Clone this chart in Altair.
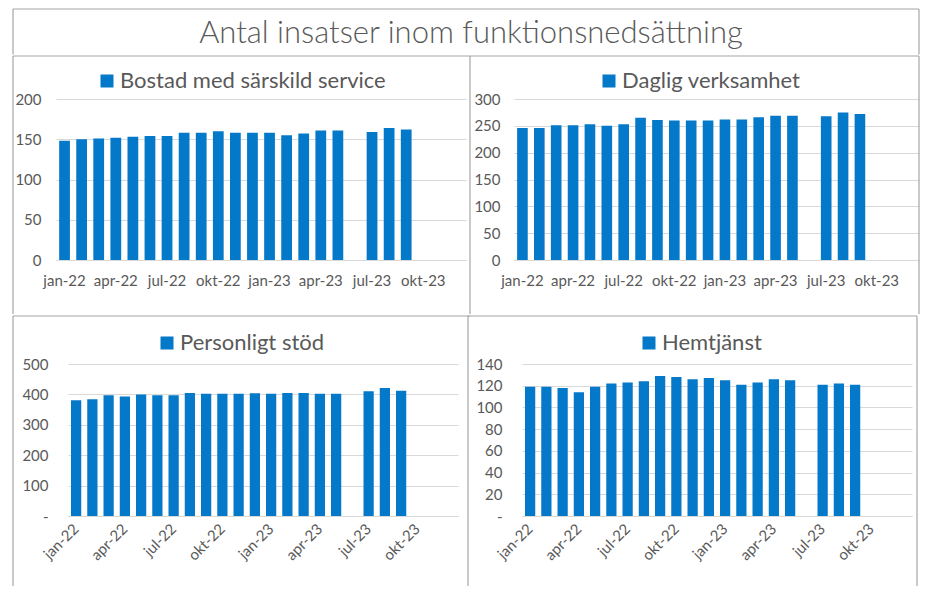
import altair as alt
import pandas as pd

TITLE = "Antal insatser inom funktionsnedsättning"

months = ["jan-22", "feb-22", "mar-22", "apr-22", "maj-22", "jun-22",
          "jul-22", "aug-22", "sep-22", "okt-22", "nov-22", "dec-22",
          "jan-23", "feb-23", "mar-23", "apr-23", "maj-23", "jun-23",
          "jul-23", "aug-23", "sep-23", "okt-23", "nov-23", "dec-23"]
tick_months = ["jan-22", "apr-22", "jul-22", "okt-22", "jan-23", "apr-23", "jul-23", "okt-23"]

bostad = [148, 150, 151, 152, 153, 154, 154, 158, 158, 160, 158, 158,
          158, 155, 157, 161, 161, None, 159, 164, 162, None, None, None]
daglig = [246, 246, 251, 251, 253, 250, 253, 265, 261, 260, 260, 260,
          262, 262, 266, 269, 269, None, 268, 275, 272, None, None, None]
personligt = [381, 384, 397, 393, 400, 397, 397, 405, 402, 402, 402, 404,
              402, 405, 405, 402, 402, None, 410, 421, 412, None, None, None]
hemtjanst = [119, 119, 118, 114, 119, 122, 123, 124, 129, 128, 126, 127,
             125, 121, 123, 126, 125, None, 121, 122, 121, None, None, None]

names = ["Bostad med särskild service", "Daglig verksamhet", "Personligt stöd", "Hemtjänst"]

BLUE = "#0479C9"
TEXT = "#595959"
GRID = "#D9D9D9"
FRAME = "#A6A6A6"
FONT = "Lato"

fdf = pd.DataFrame({"f": [0]})


def seg(x1, x2, y1, y2):
    return alt.Chart(fdf).mark_rule(color=FRAME, strokeWidth=1.2).encode(
        x=alt.value(x1), x2=alt.value(x2), y=alt.value(y1), y2=alt.value(y2))


def panel(values, name, ymax, ystep, width, height, xrange, rotate, ypad,
          lx, ly, dash_zero, segs):
    df = pd.DataFrame({"month": months, "value": values, "series": name}).dropna()
    if rotate:
        xaxis = alt.Axis(values=tick_months, labelAngle=-45, labelAlign="right",
                         labelBaseline="middle", labelPadding=10, ticks=False,
                         domainColor=GRID, title=None)
    else:
        xaxis = alt.Axis(values=tick_months, labelAngle=0, labelAlign="center",
                         labelBaseline="top", labelPadding=13, ticks=False,
                         domainColor=GRID, title=None)
    yaxis_kwargs = dict(values=list(range(0, ymax + 1, ystep)), ticks=False, domain=False,
                        gridColor=GRID, labelPadding=ypad, title=None)
    if dash_zero:
        yaxis_kwargs["labelExpr"] = "datum.value == 0 ? '-\u00a0\u00a0' : datum.label"
    bars = alt.Chart(df).mark_bar().encode(
        x=alt.X("month:N", sort=months,
                scale=alt.Scale(domain=months, range=xrange,
                                paddingInner=0.37, paddingOuter=0.185),
                axis=xaxis),
        y=alt.Y("value:Q", scale=alt.Scale(domain=[0, ymax], nice=False, zero=True),
                axis=alt.Axis(**yaxis_kwargs)),
        color=alt.Color("series:N", scale=alt.Scale(range=[BLUE]),
                        legend=alt.Legend(orient="none", legendX=lx, legendY=ly, title=None,
                                          padding=0, symbolType="square", symbolSize=169,
                                          symbolStrokeWidth=0, labelLimit=600,
                                          labelFont=FONT, labelFontSize=22,
                                          labelColor=TEXT, labelOffset=2)),
    )
    return alt.layer(bars, *[seg(*s) for s in segs]).properties(width=width, height=height)


ROW1_BOTTOM = 215  # local y where the upper panels' side lines end
BOTTOM = 222       # local y where the lower frame lines end

# frame segments relative to each panel's plot origin
p1 = panel(bostad, names[0], 200, 50, 410, 161, [0, 410], False, 15, 40, -29, False,
           [(-43, 414, -43, -43), (-43, -43, -43, ROW1_BOTTOM)])
p2 = panel(daglig, names[1], 300, 50, 405, 161, [0, 405], False, 14, 84, -29, False,
           [(-44, 405, -43, -43), (-44, -44, -43, ROW1_BOTTOM), (405, 405, -43, ROW1_BOTTOM)])
p3 = panel(personligt, names[2], 500, 100, 402, 152, [12, 402], True, 8, 100, -32, True,
           [(-43, 414, -48, -48), (-43, -43, -48, BOTTOM)])
p4 = panel(hemtjanst, names[3], 140, 20, 390, 152, [0, 390], True, 20, 116, -32, True,
           [(-54, 395, -48, -48), (-54, -54, -48, BOTTOM), (395, 395, -48, BOTTOM)])

tdf = pd.DataFrame({"t": [TITLE]})
title_text = alt.Chart(tdf).mark_text(font=FONT, fontSize=31, fontWeight=300, color=TEXT,
                                      align="center", baseline="middle").encode(
    text="t:N", x=alt.value(415), y=alt.value(25))
title_chart = alt.layer(
    title_text,
    seg(-43, 863, 0, 0), seg(-43, -43, 0, 45.4), seg(863, 863, 0, 45.4)
).properties(width=863, height=46)


def ind(c):
    return c.resolve_scale(x="independent", y="independent", color="independent") \
            .resolve_legend(color="independent")


row1 = ind(alt.hconcat(p1, p2, spacing=48, bounds="flush"))
row2 = ind(alt.hconcat(p3, p4, spacing=64, bounds="flush"))
chart = ind(alt.vconcat(title_chart, row1, row2, spacing=0)).properties(
    padding={"left": 4, "top": 0, "right": 0, "bottom": 0}
).configure_view(stroke=None).configure_axis(
    labelFont=FONT, labelFontSize=15, labelColor=TEXT
)

chart.save("out.html", embed_options={"renderer": "svg", "actions": False})
